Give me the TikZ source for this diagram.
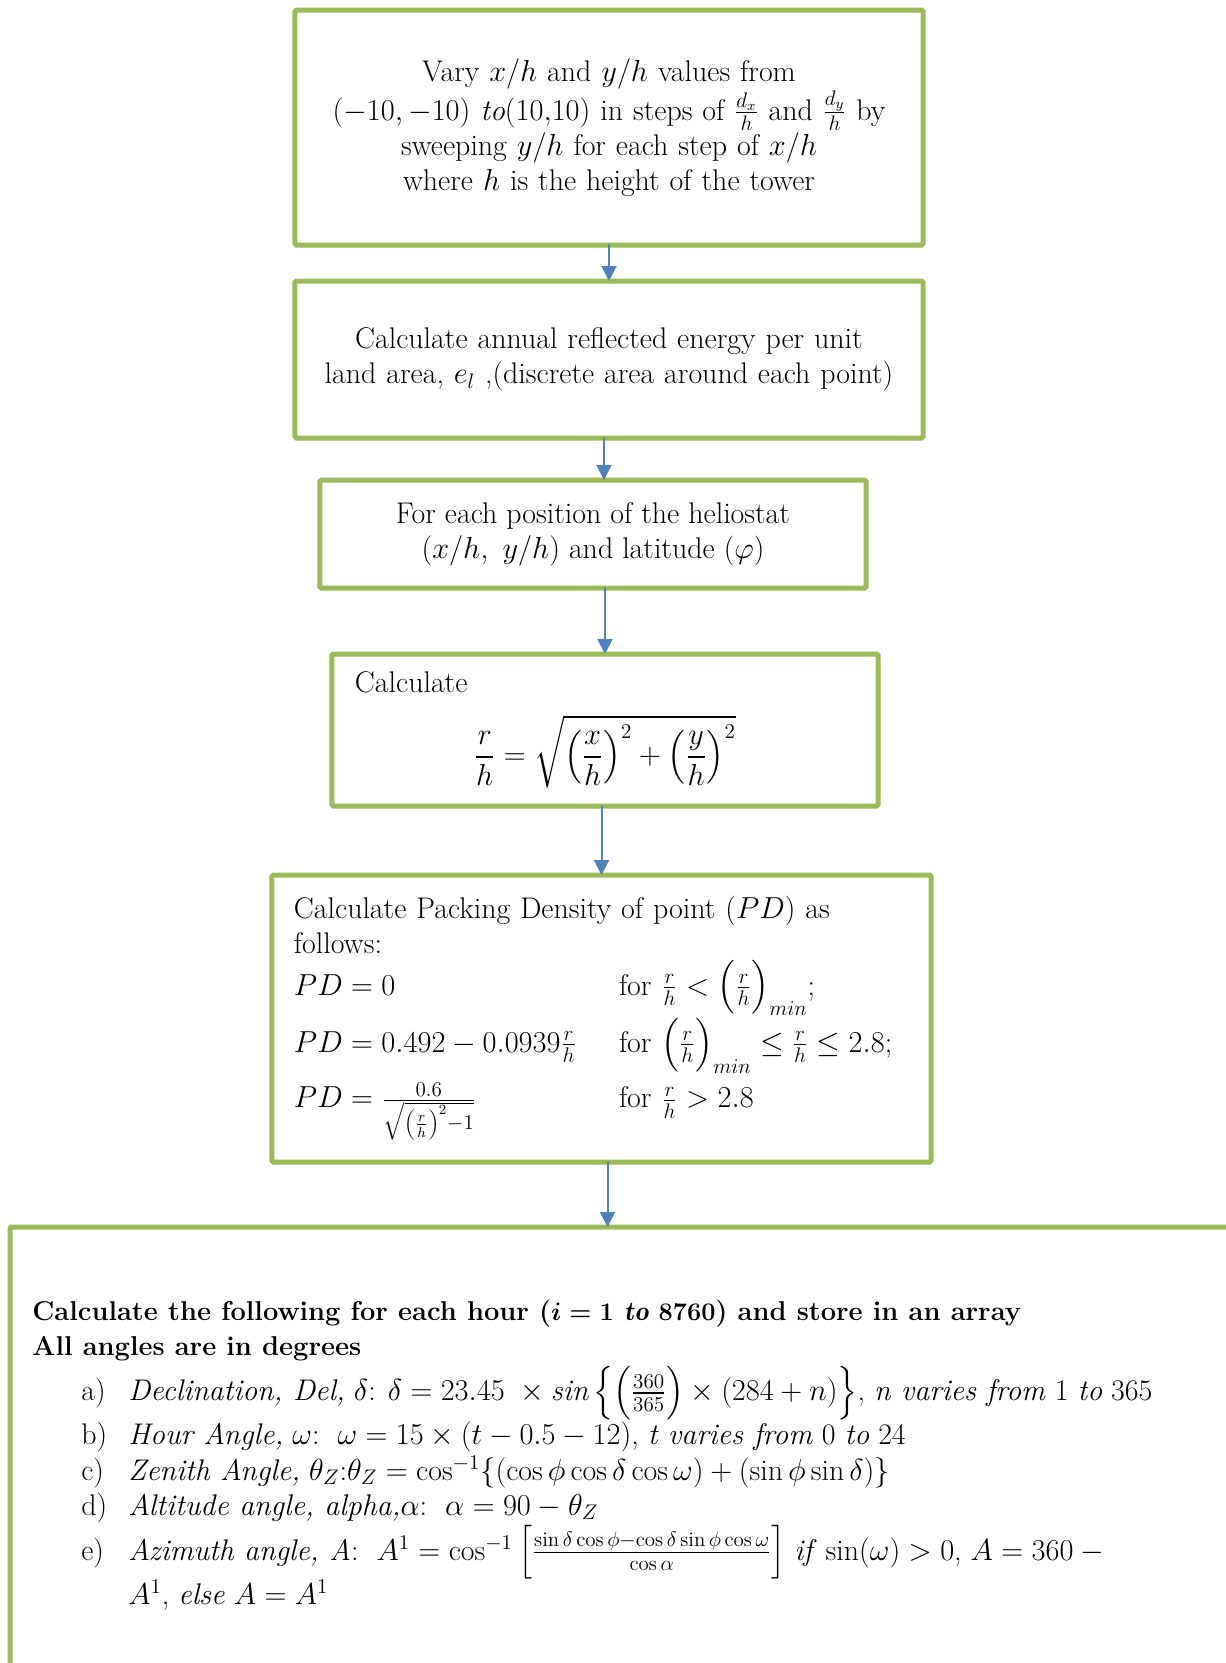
\documentclass[tikz,border=0pt]{standalone}
\usepackage{amsmath}
\usepackage{amssymb}
\usepackage{fontspec}
\usetikzlibrary{arrows.meta,positioning}
\definecolor{boxgreen}{RGB}{155,187,89}
\definecolor{flowblue}{RGB}{79,129,189}

\begin{document}
\begin{tikzpicture}[x=0.2mm, y=-0.2mm, line cap=round,
    font=\fontsize{17}{20}\selectfont,
    stepbox/.style={draw=boxgreen, line width=1mm, rounded corners=0.3mm,
      inner sep=0pt, outer sep=0pt},
    flow/.style={draw=flowblue, line width=0.4mm,
      -{Triangle[length=3mm, width=3mm]}}]
  \useasboundingbox (0,0) rectangle (1225,1663);
  % sweep of the field
  \node[stepbox, minimum width=125.6mm, minimum height=47mm,
    text width=122mm, align=center] (sweep) at (609,127.5)
    {Vary $x/h$ and $y/h$ values from\\
     $(-10,-10)\ \mathit{to}(10{,}10)$ in steps of $\frac{d_x}{h}$ and $\frac{d_y}{h}$ by\\
     sweeping $y/h$ for each step of $x/h$\\
     where $h$ is the height of the tower};
  % energy per land area
  \node[stepbox, minimum width=125.6mm, minimum height=31.4mm,
    text width=122mm, align=center] (energy) at (609,359.5)
    {Calculate annual reflected energy per unit\\
     land area, $e_l$ ,(discrete area around each point)};
  % heliostat position
  \node[stepbox, minimum width=109.2mm, minimum height=21.6mm,
    align=center] (pos) at (593,534)
    {For each position of the heliostat\\
     $(x/h,\ y/h)$ and latitude ($\varphi$)};
  % radius
  \node[stepbox, minimum width=109.2mm, minimum height=30.4mm,
    text width=100mm, align=left] (radius) at (605,730)
    {\vspace*{3mm}Calculate\\[1mm]
     \makebox[\linewidth]{$\displaystyle \frac{r}{h}=\sqrt{\left(\frac{x}{h}\right)^2+\left(\frac{y}{h}\right)^2}$}};
  % packing density
  \node[stepbox, minimum width=131.8mm, minimum height=57.4mm,
    text width=123mm, align=left] (density) at (601.5,1018.5)
    {Calculate Packing Density of point ($PD$) as\\
     follows:\\[1.2mm]
     \makebox[65mm][l]{$PD=0$}for $\frac{r}{h}<\Bigl(\frac{r}{h}\Bigr)_{min}$;\\
     \makebox[65mm][l]{$PD=0.492-0.0939\frac{r}{h}$}for $\Bigl(\frac{r}{h}\Bigr)_{min}\le\frac{r}{h}\le 2.8$;\\[1.5mm]
     \makebox[65mm][l]{$PD=\frac{0.6}{\sqrt{\left(\frac{r}{h}\right)^2-1}}$}for $\frac{r}{h}>2.8$};
  % hourly sun angles (box runs off the page)
  \node[stepbox, anchor=north west, minimum width=250mm, minimum height=95mm]
    (hourly) at (10,1227) {};
  \node[anchor=base west, inner sep=0pt] (angles) at (32,1320)
    {\begin{tabular}[t]{@{}p{9.8mm}@{}p{9.4mm}@{}l@{}}
     \multicolumn{3}{@{}l@{}}{\fontsize{15.5}{20}\selectfont\bfseries\boldmath Calculate the following for each hour ($i=1\ \mathit{to}\ 8760$) and store in an array}\\
     \multicolumn{3}{@{}l@{}}{\fontsize{15.5}{20}\selectfont\bfseries All angles are in degrees}\\
     & a) & \textit{Declination, Del,} $\delta$: $\delta=23.45\ \times\mathit{sin}\,\Bigl\{\Bigl(\frac{360}{365}\Bigr)\times(284+n)\Bigr\}$, \textit{n varies from} 1 \textit{to} 365\\
     & b) & \textit{Hour Angle,} $\omega$:\ \ $\omega=15\times(t-0.5-12)$, \textit{t varies from} 0 \textit{to} 24\\
     & c) & \textit{Zenith Angle,} $\theta_Z$:$\theta_Z=\cos^{-1}\{(\cos\phi\cos\delta\cos\omega)+(\sin\phi\sin\delta)\}$\\
     & d) & \textit{Altitude angle, alpha,}$\alpha$:\ \ $\alpha=90-\theta_Z$\\
     & e) & \textit{Azimuth angle, A}:\ \ $A^1=\cos^{-1}\left[\frac{\sin\delta\cos\phi-\cos\delta\sin\phi\cos\omega}{\cos\alpha}\right]$ \textit{if} $\sin(\omega)>0$, $A=360-{}$\\
     & & $A^1$, \textit{else} $A=A^1$
     \end{tabular}};
  % flow arrows
  \draw[flow] (sweep.south) -- (energy.north);
  \draw[flow] ([xshift=-1mm]energy.south) -- ([xshift=-1mm]energy.south |- pos.north);
  \draw[flow] (pos.south -| radius.north) -- (radius.north);
  \draw[flow] (radius.south -| density.north) -- (density.north);
  \draw[flow] ([xshift=1.2mm]density.south) -- ([xshift=1.2mm]density.south |- hourly.north);
\end{tikzpicture}
\end{document}
